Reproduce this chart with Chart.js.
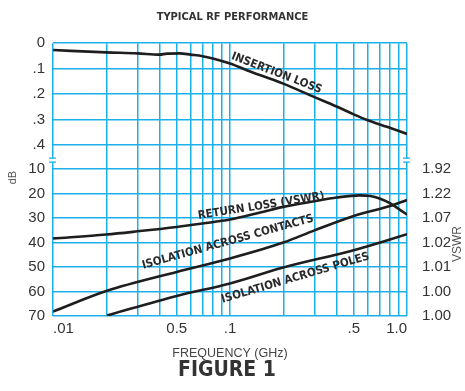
<!DOCTYPE html>
<html>
<head>
<meta charset="utf-8">
<script src="https://cdn.jsdelivr.net/npm/chart.js@4"></script>
<style>
  html, body { margin: 0; padding: 0; background: #fff; }
  #wrap { width: 465px; height: 391px; }
</style>
</head>
<body>
<div id="wrap"><canvas id="chart"></canvas></div>
<script>
// frequency grid (GHz) and the labelled ticks, as printed on the sheet
const xGrid = [0.01, 0.02, 0.03, 0.04, 0.05, 0.06, 0.07, 0.08, 0.09,
               0.1, 0.2, 0.3, 0.4, 0.5, 0.6, 0.7, 0.8, 0.9, 1.0];
const xTickValues = [0.01, 0.05, 0.1, 0.5, 1.0];
const xTickLabels = [".01", "0.5", ".1", ".5", "1.0"];

const topTickValues = [0, 0.1, 0.2, 0.3, 0.4];
const topTickLabels = ["0", ".1", ".2", ".3", ".4"];
const dbTickValues = [10, 20, 30, 40, 50, 60, 70];
const vswrLabels = ["1.92", "1.22", "1.07", "1.02", "1.01", "1.00", "1.00"];

// insertion loss (dB), top panel
const insFreq = [0.01, 0.02, 0.03, 0.04, 0.044, 0.052, 0.06, 0.07, 0.08, 0.1, 0.13, 0.2, 0.3, 0.4, 0.5, 0.6, 0.77, 1.0];
const insLoss = [0.027, 0.036, 0.040, 0.045, 0.041, 0.040, 0.045, 0.051, 0.060, 0.080, 0.111, 0.159, 0.212, 0.249, 0.280, 0.303, 0.329, 0.357];

// bottom panel (dB)
const retFreq = [0.01, 0.02, 0.03, 0.05, 0.07, 0.1, 0.15, 0.2, 0.3, 0.4, 0.54, 0.62, 0.7, 0.8, 0.9, 1.0];
const retLoss = [38.3, 36.7, 35.4, 33.6, 32.2, 30.6, 27.6, 25.4, 23.1, 21.6, 20.7, 21.0, 22.0, 23.9, 26.3, 28.6];

const conFreq = [0.01, 0.02, 0.05, 0.1, 0.2, 0.3, 0.5, 0.83, 1.0];
const conIso = [68.2, 59.8, 52.0, 46.5, 40.0, 35.0, 29.1, 24.7, 22.6];

const polFreq = [0.0202, 0.05, 0.1, 0.2, 0.5, 1.0];
const polIso = [69.8, 61.8, 56.7, 50.2, 43.1, 36.6];

const curveLabels = [
  { text: "INSERTION LOSS", axis: "yTop", at: [0.183, 0.118], angle: 21 },
  { text: "RETURN LOSS (VSWR)", axis: "yBot", at: [0.150, 25.1], angle: -9 },
  { text: "ISOLATION ACROSS CONTACTS", axis: "yBot", at: [0.0972, 39.8], angle: -15.5 },
  { text: "ISOLATION ACROSS POLES", axis: "yBot", at: [0.234, 54.5], angle: -16.5 }
];

const BLUE = "#1cb0ea";
const INK = "#1e1e1e";
const TEXT = "#333";

function pts(xs, ys) {
  return xs.map((x, i) => ({ x: x, y: ys[i] }));
}

function line(data, axis) {
  return {
    data: data,
    yAxisID: axis,
    borderColor: INK,
    borderWidth: 2.6,
    pointRadius: 0,
    fill: false,
    cubicInterpolationMode: "monotone"
  };
}

// label lookup by tick value (reverse axes flip the tick order)
function labelFor(values, labels) {
  return v => {
    const i = values.findIndex(t => Math.abs(t - v) < 1e-6);
    return i < 0 ? "" : labels[i];
  };
}

const extras = {
  id: "extras",
  afterDatasetsDraw(chart) {
    const ctx = chart.ctx;
    const xs = chart.scales.x;
    ctx.save();
    ctx.fillStyle = "#2a2a2a";
    ctx.font = "bold 11.5px 'DejaVu Sans Condensed', 'DejaVu Sans'";
    ctx.textAlign = "center";
    ctx.textBaseline = "middle";
    curveLabels.forEach(l => {
      const px = xs.getPixelForValue(l.at[0]);
      const py = chart.scales[l.axis].getPixelForValue(l.at[1]);
      ctx.save();
      ctx.translate(px, py);
      ctx.rotate(l.angle * Math.PI / 180);
      ctx.fillText(l.text, 0, 0);
      ctx.restore();
    });
    ctx.restore();
  },
  afterDraw(chart) {
    const ctx = chart.ctx;
    const area = chart.chartArea;
    const yb = chart.scales.yTop.bottom;

    // axis break marks
    ctx.save();
    ctx.strokeStyle = BLUE;
    ctx.lineWidth = 1.3;
    [area.left, area.right].forEach(x => {
      ctx.fillStyle = "#fff";
      ctx.fillRect(x - 2, yb - 1.5, 4, 3);
      ctx.beginPath();
      ctx.moveTo(x - 4, yb - 2); ctx.lineTo(x + 3, yb - 2);
      ctx.moveTo(x - 4, yb + 2); ctx.lineTo(x + 3, yb + 2);
      ctx.stroke();
    });

    ctx.fillStyle = "#555";
    ctx.textAlign = "center";
    ctx.textBaseline = "middle";
    ctx.font = "11px 'Liberation Sans', Arial";
    ctx.save();
    ctx.translate(13, (area.top + area.bottom) / 2 - 2);
    ctx.rotate(-Math.PI / 2);
    ctx.fillText("dB", 0, 0);
    ctx.restore();

    const yBot = chart.scales.yBot;
    ctx.font = "12px 'Liberation Sans', Arial";
    ctx.save();
    ctx.translate(458, (yBot.top + yBot.bottom) / 2 + 6);
    ctx.rotate(-Math.PI / 2);
    ctx.fillText("VSWR", 0, 0);
    ctx.restore();

    ctx.fillStyle = "#333";
    ctx.font = "bold 21px 'DejaVu Sans Condensed', 'DejaVu Sans'";
    ctx.fillText("FIGURE 1", (area.left + area.right) / 2 - 3, chart.height - 20);
    ctx.restore();
  }
};

const tickFont = { family: "'Liberation Sans', Arial", size: 15 };
const gridOpts = { color: BLUE, lineWidth: 1.5, drawTicks: false };

new Chart(document.getElementById("chart"), {
  type: "line",
  data: {
    datasets: [
      line(pts(insFreq, insLoss), "yTop"),
      line(pts(retFreq, retLoss), "yBot"),
      line(pts(conFreq, conIso), "yBot"),
      line(pts(polFreq, polIso), "yBot")
    ]
  },
  options: {
    responsive: true,
    maintainAspectRatio: false,
    animation: false,
    layout: { padding: 0 },
    scales: {
      x: {
        type: "logarithmic",
        min: 0.01,
        max: 1.0,
        afterBuildTicks: s => { s.ticks = xGrid.map(v => ({ value: v })); },
        afterFit: s => { s.height = 75; },
        ticks: {
          autoSkip: false,
          maxRotation: 0,
          align: "inner",
          padding: 4,
          color: TEXT,
          font: tickFont,
          callback: labelFor(xTickValues, xTickLabels)
        },
        grid: gridOpts,
        border: { display: false },
        title: {
          display: true,
          text: "FREQUENCY (GHz)",
          color: "#444",
          font: { family: "'Liberation Sans', Arial", size: 12.5 },
          padding: { top: 0, bottom: 30 }
        }
      },
      yBot: {
        position: "left",
        stack: "left",
        stackWeight: 4,
        reverse: true,
        min: 6.3,
        max: 70,
        afterBuildTicks: s => { s.ticks = dbTickValues.map(v => ({ value: v })); },
        afterFit: s => { s.width = 53; },
        ticks: { autoSkip: false, padding: 8, color: TEXT, font: tickFont },
        grid: gridOpts,
        border: { display: false }
      },
      yTop: {
        position: "left",
        stack: "left",
        stackWeight: 3,
        reverse: true,
        min: 0,
        max: 0.46,
        afterBuildTicks: s => { s.ticks = topTickValues.map(v => ({ value: v })); },
        afterFit: s => { s.width = 53; },
        ticks: {
          autoSkip: false, padding: 8, color: TEXT, font: tickFont,
          callback: labelFor(topTickValues, topTickLabels)
        },
        grid: gridOpts,
        border: { display: false }
      },
      yTopR: {
        position: "right",
        stack: "right",
        stackWeight: 3,
        reverse: true,
        min: 0,
        max: 0.46,
        afterFit: s => { s.width = 58; },
        ticks: { display: false },
        grid: { display: false },
        border: { display: false }
      },
      yBotR: {
        position: "right",
        stack: "right",
        stackWeight: 4,
        reverse: true,
        min: 6.3,
        max: 70,
        afterBuildTicks: s => { s.ticks = dbTickValues.map(v => ({ value: v })); },
        afterFit: s => { s.width = 58; },
        ticks: {
          autoSkip: false, padding: 7, color: TEXT, font: tickFont,
          callback: labelFor(dbTickValues, vswrLabels)
        },
        grid: { display: false },
        border: { display: false }
      }
    },
    plugins: {
      legend: { display: false },
      tooltip: { enabled: false },
      title: {
        display: true,
        text: "TYPICAL RF PERFORMANCE",
        color: "#333",
        font: { family: "'DejaVu Sans Condensed', 'DejaVu Sans'", weight: "bold", size: 11 },
        padding: { top: 11, bottom: 19 }
      }
    }
  },
  plugins: [extras]
});
</script>
</body>
</html>
